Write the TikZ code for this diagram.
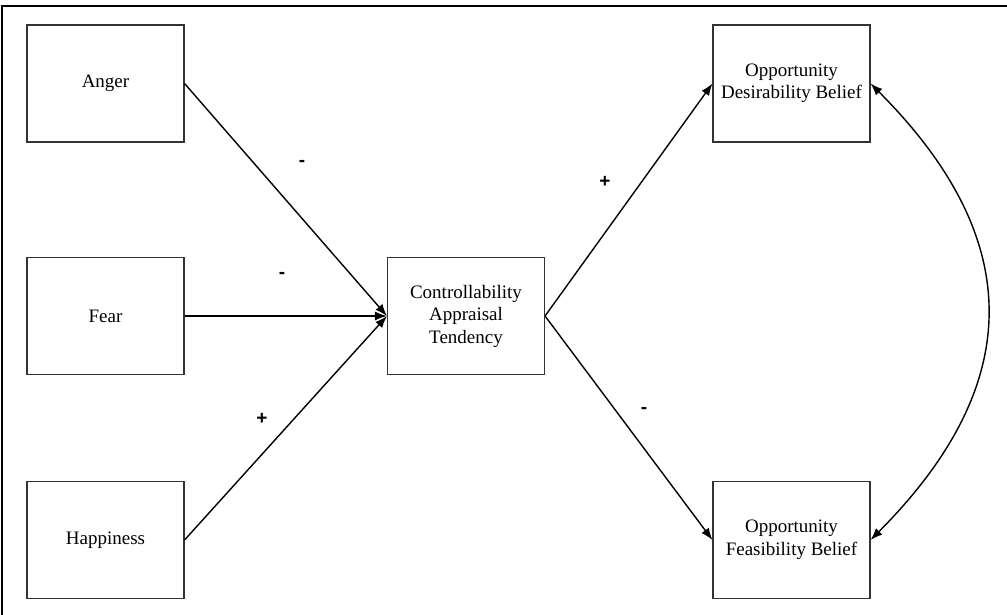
\documentclass[tikz,border=0pt]{standalone}
\usepackage{fontspec}
\setmainfont{Liberation Serif}
\newfontfamily\labelfont{Liberation Sans}
\usetikzlibrary{arrows.meta}
\begin{document}
\begin{tikzpicture}[x=1pt,y=-1pt,
  box/.style={draw=black!80, line width=1.1pt, minimum width=157pt, minimum height=117pt,
    inner sep=0pt, align=center, font=\fontsize{19}{22.5}\selectfont},
  conn/.style={line width=1.4pt, -{Latex[length=12pt,width=9pt]}},
  sign/.style={font=\labelfont\bfseries\fontsize{19}{19}\selectfont, anchor=base, inner sep=0pt}]
\useasboundingbox (0,0) rectangle (1007,615);
\draw[line width=1.5pt] (2,615) -- (2,6) -- (1007,6);
\node[box] (anger) at (105.5,83.5) {Anger};
\node[box] (fear) at (105.5,316) {Fear};
\node[box] (happy) at (105.5,540) {Happiness};
\node[box] (cat) at (466,316) {Controllability\\Appraisal\\Tendency};
\node[box] (odb) at (791.5,83.5) {Opportunity\\Desirability Belief};
\node[box] (ofb) at (791.5,540) {Opportunity\\Feasibility Belief};
\draw[conn] (anger.east) -- (cat.west);
\draw[conn] (fear.east) -- (cat.west);
\draw[conn] (happy.east) -- (cat.west);
\draw[conn] (cat.east) -- (odb.west);
\draw[conn] (cat.east) -- (ofb.west);
\draw[line width=1.4pt, {Latex[length=12pt,width=9pt]}-{Latex[length=12pt,width=9pt]}]
  (odb.east) .. controls (1026,239) and (1026,384) .. (ofb.east);
\node[sign] (s1) at (302,167) {-};
\node[sign] (s2) at (282,278) {-};
\node[sign] (s3) at (262,424) {+};
\node[sign] (s4) at (605,187) {+};
\node[sign] (s5) at (644,413) {-};
\end{tikzpicture}
\end{document}
